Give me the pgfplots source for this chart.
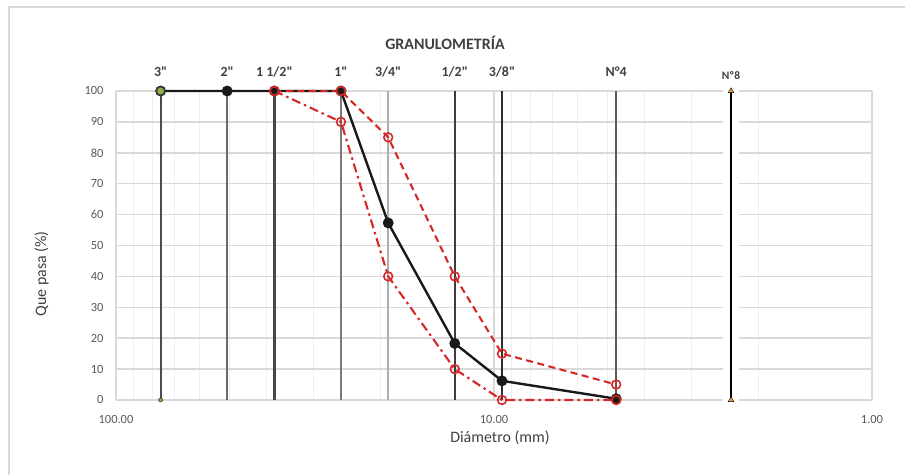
\documentclass[border=0pt]{standalone}
\usepackage{pgfplots}
\pgfplotsset{compat=1.18}
\usepackage{fontspec}
\setmainfont{Carlito}[Ligatures=TeXOff]

\definecolor{framegray}{HTML}{D9D9D9}
\definecolor{gridmaj}{HTML}{D9D9D9}
\definecolor{gridmin}{HTML}{EEEEEE}
\definecolor{ticktext}{HTML}{595959}
\definecolor{labeltext}{HTML}{404040}
\definecolor{limred}{HTML}{D62828}
\definecolor{olivemark}{HTML}{8DB04A}
\definecolor{sieveorange}{HTML}{F2A33A}

\newcommand{\ticksize}{\fontsize{12.5}{15}\selectfont}
\newcommand{\sievesize}{\fontsize{14}{16}\selectfont\bfseries}

\begin{document}
\begin{tikzpicture}
\useasboundingbox (0,0) rectangle (905bp,475bp);
% light frame of the chart area
\draw[framegray, line width=1.3bp] (9bp,0) -- (9bp,468bp) -- (905bp,468bp);

\begin{axis}[
  at={(116bp,75bp)}, anchor=south west,
  scale only axis, width=756bp, height=309bp,
  xmode=log, x dir=reverse,
  xmin=1, xmax=100, ymin=0, ymax=100,
  xtick={1,10,100}, xticklabels={1.00,10.00,100.00},
  minor xtick={2,3,4,5,6,7,8,9,20,30,40,50,60,70,80,90},
  ytick={0,10,...,100},
  yticklabels={0,10,20,30,40,50,60,70,80,90,100},
  xmajorgrids, xminorgrids, ymajorgrids,
  major grid style={draw=gridmaj, line width=1.5bp},
  minor grid style={draw=gridmin, line width=1.1bp},
  axis line style={draw=none},
  major tick length=0pt, minor tick length=0pt,
  tick label style={font=\ticksize, text=ticktext},
  xticklabel style={yshift=-12bp},
  yticklabel style={xshift=-9bp},
  clip=false,
]

% white halo behind the No. 8 sieve line
\addplot[white, line width=16bp, forget plot] coordinates {(2.36,-3) (2.36,103)};

% sieve lines
\addplot[color=black!70, line width=2.2bp] coordinates {(76.2,0) (76.2,100)};
\addplot[color=black!58, line width=2.5bp] coordinates {(50.8,0) (50.8,100)};
\addplot[color=black!72, line width=2.2bp] coordinates {(38.1,0) (38.1,100)};
\addplot[color=black!52, line width=2.5bp] coordinates {(25.4,0) (25.4,100)};
\addplot[color=black!32, line width=2.5bp] coordinates {(19.05,0) (19.05,100)};
\addplot[color=black!76, line width=2.2bp] coordinates {(12.7,0) (12.7,100)};
\addplot[color=black!82, line width=2.2bp] coordinates {(9.525,0) (9.525,100)};
\addplot[color=black!64, line width=2.5bp] coordinates {(4.75,0) (4.75,100)};
\addplot[color=black, line width=2bp] coordinates {(2.36,0) (2.36,100)};

% grading curve of the sample
\addplot[black!90, line width=2.4bp, mark=*, mark size=4.2pt]
  coordinates {(76.2,100) (50.8,100) (38.1,100) (25.4,100) (19.05,57.3) (12.7,18.3) (9.525,6.2) (4.75,0.4)};

% upper limit of the band
\addplot[limred, line width=2.1bp, dash pattern=on 7bp off 4.5bp,
  mark=o, mark size=4.4pt, mark options={solid, line width=1.6bp}]
  coordinates {(38.1,100) (25.4,100) (19.05,85) (12.7,40) (9.525,15) (4.75,5)};

% lower limit of the band
\addplot[limred, line width=2.1bp, dash pattern=on 9bp off 4bp on 2.5bp off 4bp,
  mark=o, mark size=4.4pt, mark options={solid, line width=1.6bp}]
  coordinates {(38.1,100) (25.4,90) (19.05,40) (12.7,10) (9.525,0) (4.75,0)};

% end marks of the 3 in and No. 8 sieve lines
\addplot[only marks, mark=*, mark size=4.2pt, mark options={fill=olivemark, draw=black!75, line width=1.3bp}]
  coordinates {(76.2,100)};
\addplot[only marks, mark=*, mark size=2pt, mark options={fill=olivemark, draw=none}]
  coordinates {(76.2,0)};
\addplot[only marks, mark=triangle*, mark size=3.2pt, mark options={fill=sieveorange, draw=none}]
  coordinates {(2.36,0) (2.36,100)};

% sieve names above the plot area
\begin{scope}[every node/.style={font=\sievesize, text=labeltext, anchor=base, yshift=14.5bp}]
\node at (axis cs:76.2,100) {3"};
\node at (axis cs:50.8,100) {2"};
\node at (axis cs:38.1,100) {1 1/2"};
\node at (axis cs:25.4,100) {1"};
\node at (axis cs:19.05,100) {3/4"};
\node at (axis cs:12.7,100) {1/2"};
\node at (axis cs:9.525,100) {3/8"};
\node at (axis cs:4.75,100) {N°4};
\end{scope}
\node[font=\fontsize{11.5}{13}\selectfont\bfseries, text=labeltext, anchor=base, yshift=11.5bp] at (axis cs:2.36,100) {Nº8};
\end{axis}

% titles
\node[font=\fontsize{16}{18}\selectfont\bfseries, text=labeltext, anchor=base] at (445bp,425bp) {GRANULOMETRÍA};
\node[font=\fontsize{16}{18}\selectfont, text=labeltext, anchor=base] at (500bp,33bp) {Diámetro (mm)};
\node[font=\fontsize{16}{18}\selectfont, text=labeltext, rotate=90, anchor=base] at (46bp,201bp) {Que pasa (\%)};
\end{tikzpicture}
\end{document}
